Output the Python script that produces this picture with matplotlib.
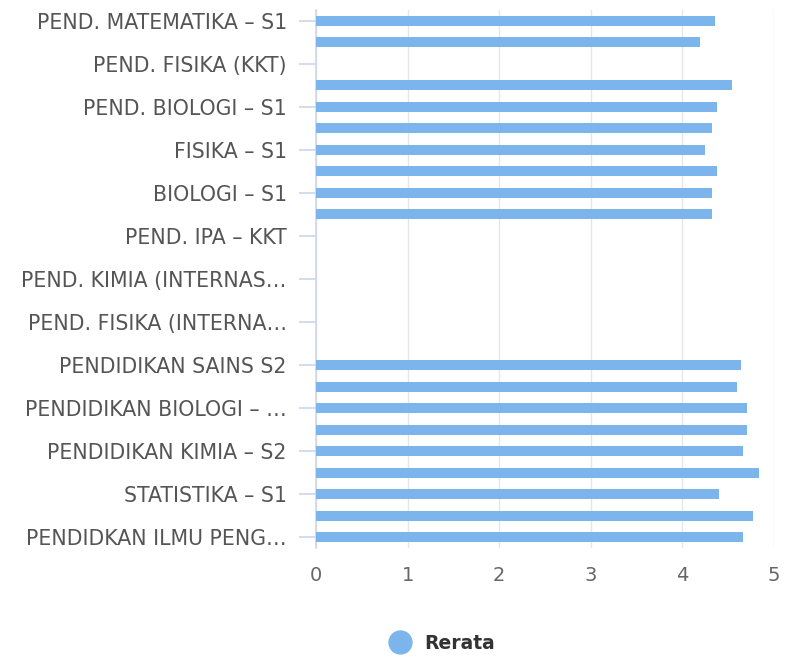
import numpy as np
import matplotlib.pyplot as plt
from matplotlib.lines import Line2D

# 25 program rows; only every other label is shown in the chart
labels = [
    "PEND. MATEMATIKA – S1", "", "PEND. FISIKA (KKT)", "", "PEND. BIOLOGI – S1",
    "", "FISIKA – S1", "", "BIOLOGI – S1", "", "PEND. IPA – KKT", "",
    "PEND. KIMIA (INTERNAS…", "", "PEND. FISIKA (INTERNA…", "",
    "PENDIDIKAN SAINS S2", "", "PENDIDIKAN BIOLOGI – …", "",
    "PENDIDIKAN KIMIA – S2", "", "STATISTIKA – S1", "", "PENDIDKAN ILMU PENG…",
]
rerata = [4.36, 4.19, 0, 4.54, 4.38, 4.32, 4.25, 4.38, 4.32, 4.32,
          0, 0, 0, 0, 0, 0,
          4.64, 4.60, 4.71, 4.71, 4.66, 4.84, 4.40, 4.77, 4.66]

bar_color = "#7cb5ec"
axis_color = "#ccd6eb"
font = "DejaVu Sans"

fig = plt.figure(figsize=(7.85, 6.58), dpi=100)
ax = fig.add_axes([0.4025, 0.167, 0.5835, 0.818])

y = np.arange(len(rerata))
ax.barh(y, rerata, height=0.47, color=bar_color, zorder=3)

ax.set_ylim(len(rerata) - 0.5, -0.5)
ax.set_xlim(0, 5)
ax.set_xticks(range(6))
ax.grid(axis="x", color="#e6e6e6", linewidth=1, zorder=0)

shown = [i for i, t in enumerate(labels) if t]
ax.set_yticks(shown)
ax.set_yticklabels([labels[i] for i in shown])

for s in ["top", "right", "bottom"]:
    ax.spines[s].set_visible(False)
ax.spines["left"].set_color(axis_color)
ax.spines["left"].set_linewidth(1.2)

ax.tick_params(axis="y", length=12, width=1.2, color=axis_color, pad=9,
               labelsize=14.8, labelcolor="#555555")
ax.tick_params(axis="x", length=0, pad=13, labelsize=14, labelcolor="#666666")
for t in ax.get_yticklabels() + ax.get_xticklabels():
    t.set_fontfamily(font)

handle = Line2D([], [], marker="o", linestyle="none", markersize=16.5,
                markerfacecolor=bar_color, markeredgecolor=bar_color)
fig.legend([handle], ["Rerata"], loc="center", bbox_to_anchor=(0.558, 0.022),
           frameon=False, handletextpad=0.3,
           prop={"family": font, "weight": "bold", "size": 13.5})
for t in fig.legends[0].get_texts():
    t.set_color("#333333")

fig.savefig("out.png", dpi=100)
